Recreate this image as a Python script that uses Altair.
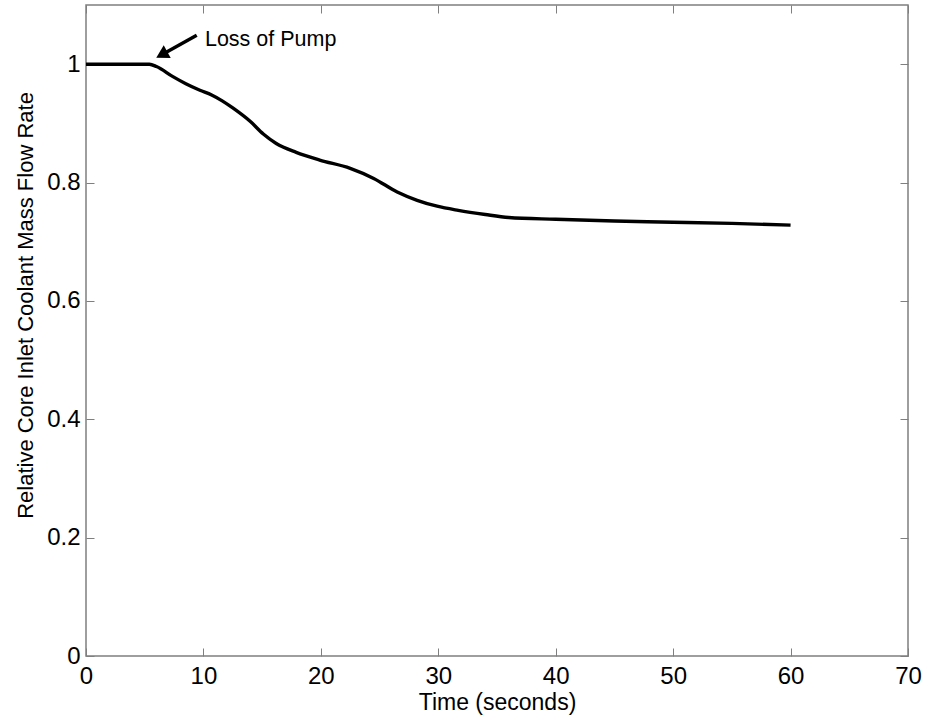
import altair as alt
import pandas as pd

# Curve data
time_s = [0, 2, 4, 5.4, 6, 7.4, 8.5, 9.7, 10.7, 11.6, 12.5, 14, 15.1, 16.2, 17.9,
          19.9, 22.5, 24.5, 26.5, 28.2, 29.9, 31.7, 34, 36, 40, 45, 50, 55, 60]
flow = [1.0, 1.0, 1.0, 1.0, 0.996, 0.979, 0.967, 0.956, 0.948, 0.938, 0.926, 0.903,
        0.882, 0.866, 0.851, 0.838, 0.824, 0.807, 0.784, 0.770, 0.760, 0.753, 0.746,
        0.741, 0.738, 0.735, 0.733, 0.731, 0.728]

x_ticks = [0, 10, 20, 30, 40, 50, 60, 70]
y_ticks = [0, 0.2, 0.4, 0.6, 0.8, 1.0]

# Annotation
ann_label = ["Loss of Pump"]
ann_x = [10.13]
ann_y = [1.030]
arrow_tail_x = [9.43]
arrow_tail_y = [1.049]
arrow_head_x = [6.45]
arrow_head_y = [1.0160]

FONT = "Liberation Sans"
TICK_FS = 24
GRAY = "#7f7f7f"

df = pd.DataFrame({"t": time_s, "v": flow})
ann = pd.DataFrame({"x": ann_x, "y": ann_y, "label": ann_label})
arrow = pd.DataFrame({"x": arrow_tail_x, "y": arrow_tail_y,
                      "x2": arrow_head_x, "y2": arrow_head_y})

xs = alt.Scale(domain=[0, 70], nice=False, zero=False)
ys = alt.Scale(domain=[0, 1.1], nice=False, zero=False)

main = alt.Chart(df).mark_line(color="black", strokeWidth=3.4, interpolate="monotone").encode(
    x=alt.X("t:Q", scale=xs, axis=alt.Axis(
        orient="bottom", values=x_ticks, offset=-8, tickSize=8, tickColor=GRAY,
        domain=False, grid=False, labelPadding=8, labelFont=FONT, labelFontSize=TICK_FS,
        labelColor="black", labelFlush=False, labelOverlap=False, format="d",
        title="Time (seconds)", titleFont=FONT, titleFontSize=23, titleFontWeight="normal",
        titleColor="black", titleBaseline="alphabetic", titleY=61)),
    y=alt.Y("v:Q", scale=ys, axis=alt.Axis(
        orient="left", values=y_ticks, offset=-8, tickSize=8, tickColor=GRAY,
        domain=False, grid=False, labelPadding=6, labelFont=FONT, labelFontSize=TICK_FS,
        labelColor="black", labelFlush=False, labelOverlap=False, format="~g",
        title="Relative Core Inlet Coolant Mass Flow Rate", titleFont=FONT,
        titleFontSize=22, titleFontWeight="normal", titleColor="black",
        titleBaseline="alphabetic", titleAngle=270, titleX=-62, titleY=300)),
)

frame_axes = alt.Chart(df).mark_line(opacity=0).encode(
    x=alt.X("t:Q", scale=xs, axis=alt.Axis(
        orient="top", values=x_ticks, offset=-8, tickSize=8, tickColor=GRAY,
        domain=False, grid=False, labels=False, title=None)),
    y=alt.Y("v:Q", scale=ys, axis=alt.Axis(
        orient="right", values=y_ticks, offset=-8, tickSize=8, tickColor=GRAY,
        domain=False, grid=False, labels=False, title=None)),
)

shaft = alt.Chart(arrow).mark_rule(color="black", strokeWidth=3.5).encode(
    x=alt.X("x:Q", scale=xs, axis=None),
    y=alt.Y("y:Q", scale=ys, axis=None),
    x2="x2:Q", y2="y2:Q",
)

head = alt.Chart(arrow).mark_point(shape="triangle-up", filled=True, color="black",
                                   opacity=1, size=210, angle=241).encode(
    x=alt.X("x2:Q", scale=xs, axis=None),
    y=alt.Y("y2:Q", scale=ys, axis=None),
)

text = alt.Chart(ann).mark_text(align="left", baseline="alphabetic", font=FONT,
                                fontSize=21.5, color="black").encode(
    x=alt.X("x:Q", scale=xs, axis=None),
    y=alt.Y("y:Q", scale=ys, axis=None),
    text="label:N",
)

chart = alt.layer(main, frame_axes, shaft, head, text).resolve_axis(
    x="independent", y="independent"
).properties(
    width=822, height=651, autosize="none",
    padding={"left": 86, "top": 5, "right": 19, "bottom": 65},
    background="white",
).configure_view(stroke=GRAY, strokeWidth=1.5)

chart.save("out.html", embed_options={"renderer": "svg", "actions": False})
